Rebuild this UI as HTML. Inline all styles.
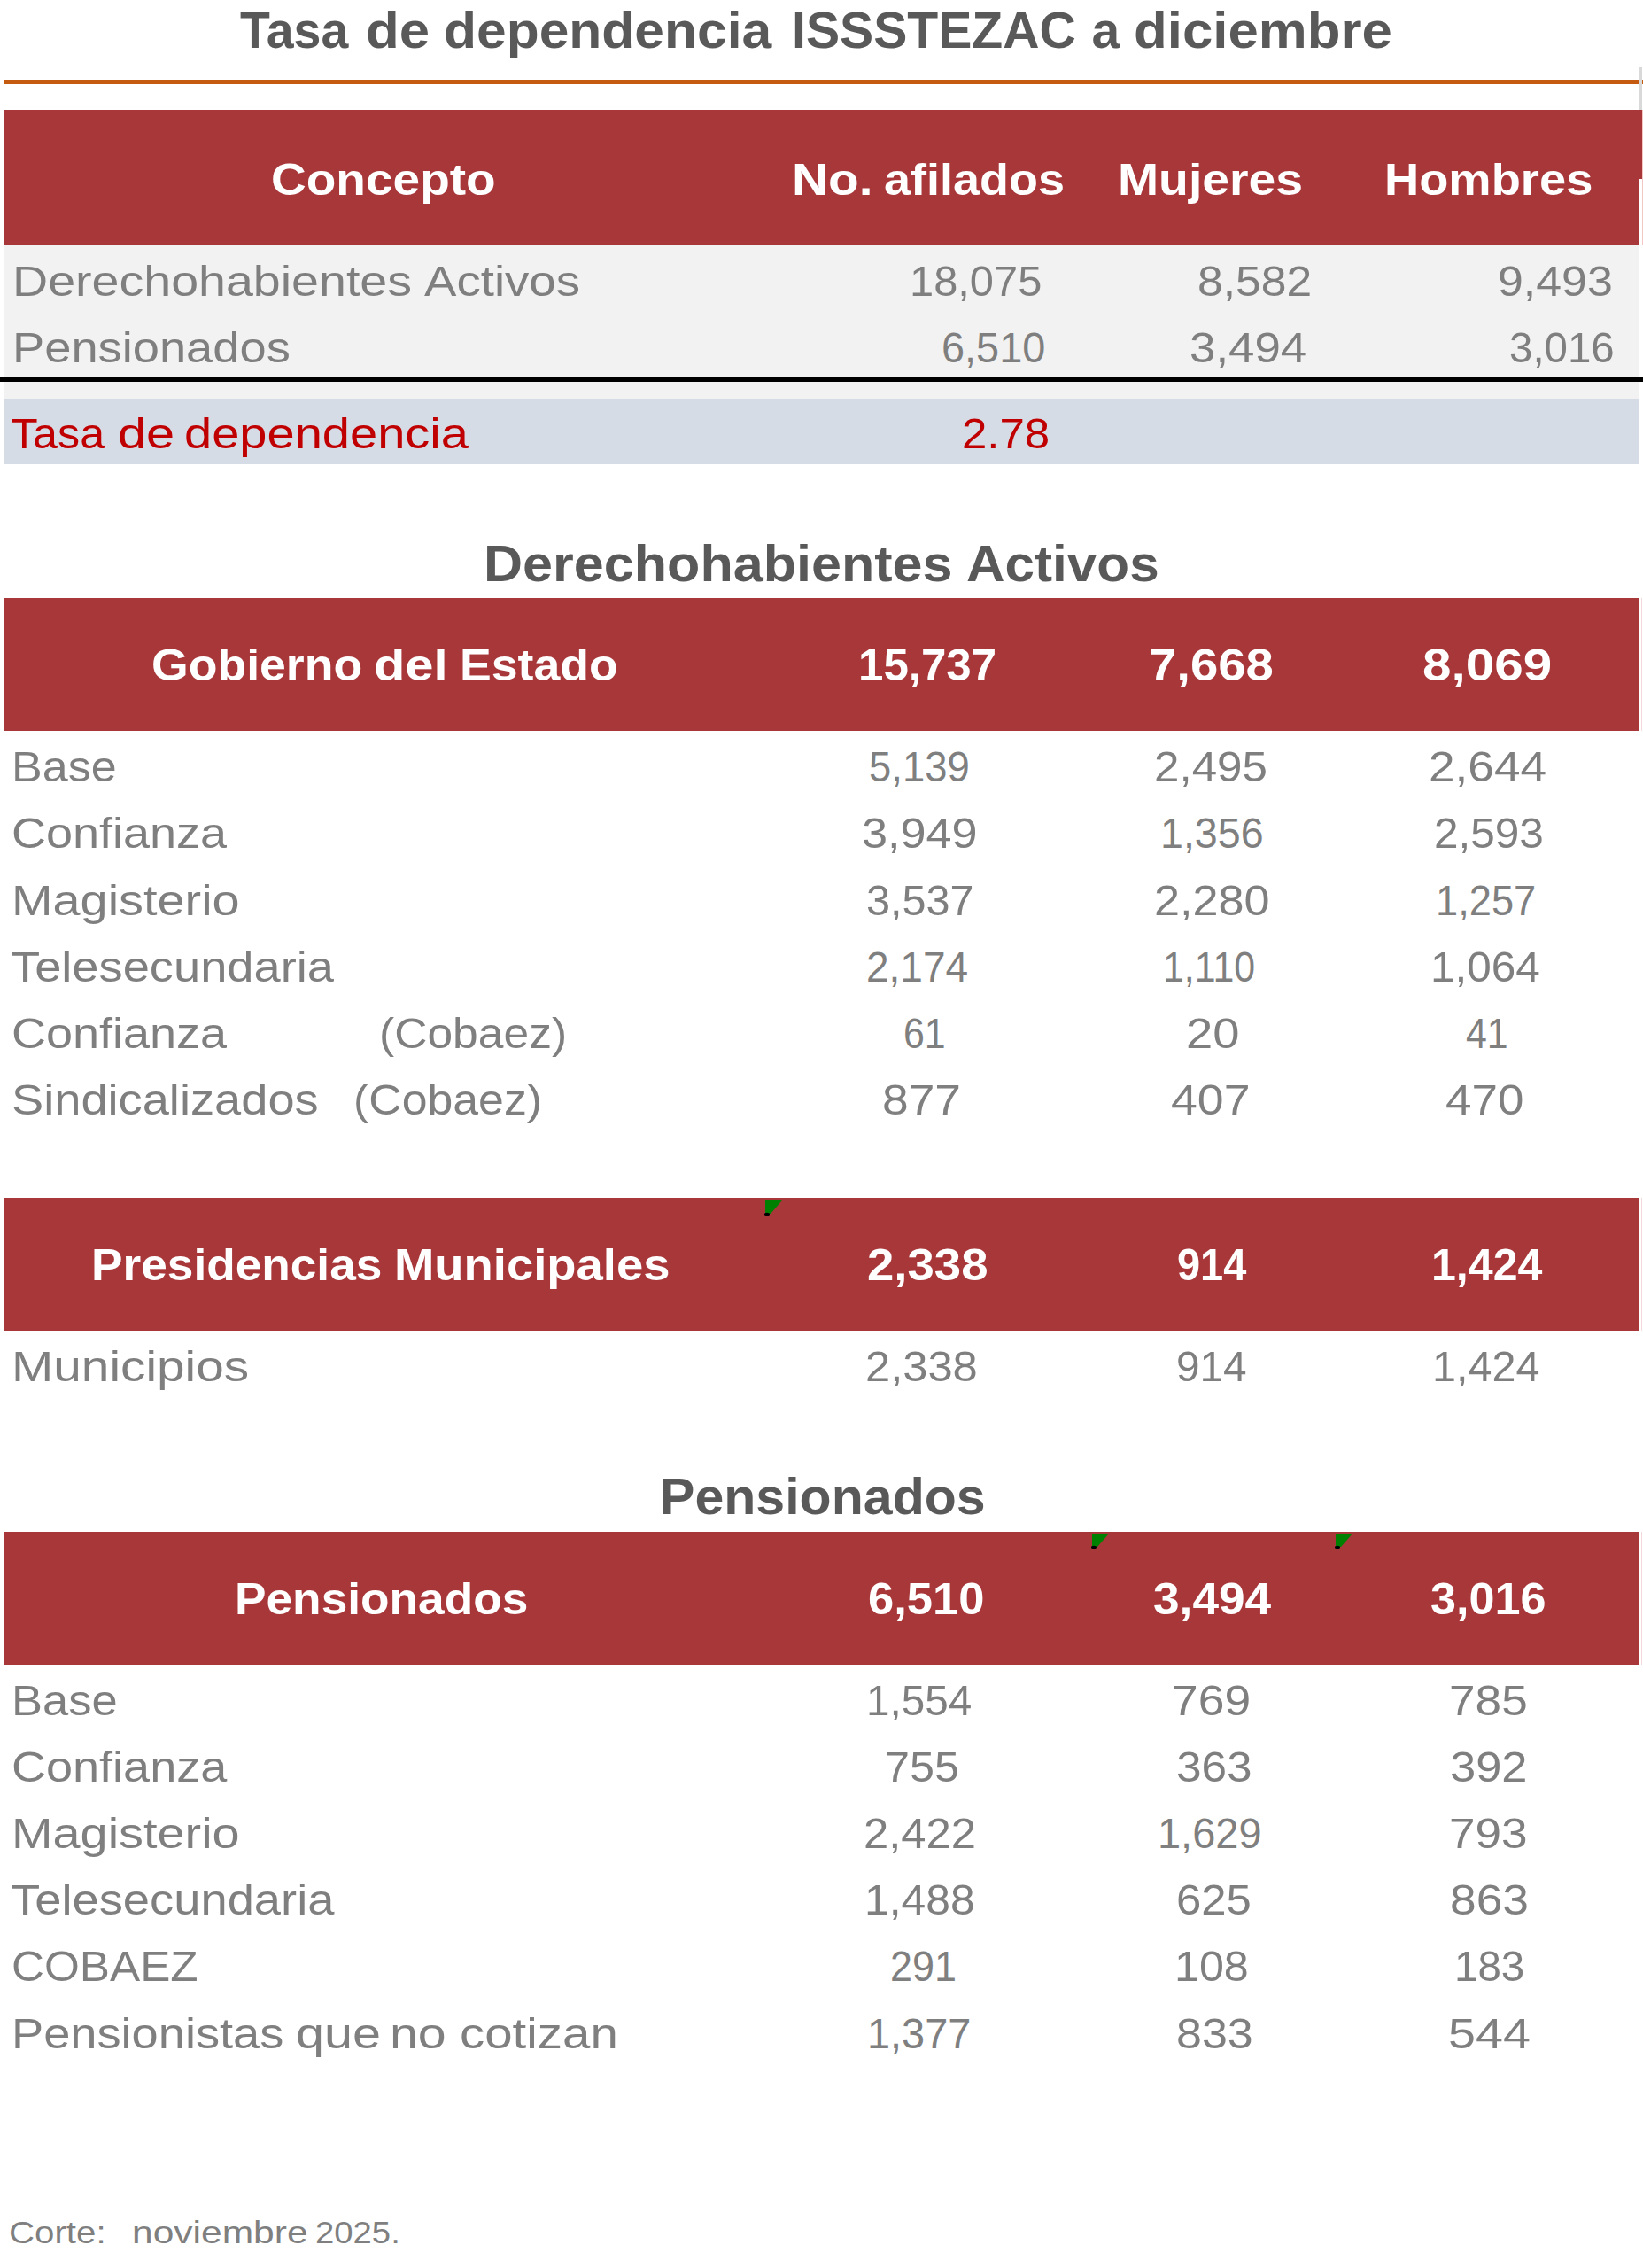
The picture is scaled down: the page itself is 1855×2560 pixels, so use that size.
<!DOCTYPE html>
<html lang="es"><head><meta charset="utf-8"><title>Tasa de dependencia ISSSTEZAC</title>
<style>
html,body{margin:0;padding:0;background:#fff}
body{width:1855px;height:2560px;position:relative;overflow:hidden;font-family:"Liberation Sans", sans-serif}
.r{position:absolute;display:block}
.t{position:absolute;white-space:pre;transform-origin:0 0;font-weight:400}
.b{font-weight:700}
</style></head><body>
<div class="r" style="left:4px;top:90px;width:1851px;height:5px;background:#c55a11"></div>
<div class="r" style="left:1851px;top:76px;width:3px;height:48px;background:#d9d9d9"></div>
<div class="r" style="left:4px;top:124px;width:1847px;height:153px;background:#a8373a"></div>
<div class="r" style="left:1851px;top:124px;width:3px;height:78px;background:#a8373a"></div>
<div class="r" style="left:1854px;top:124px;width:1px;height:153px;background:#f4c7c3"></div>
<div class="r" style="left:4px;top:277px;width:1847px;height:172.5px;background:#f2f2f2"></div>
<div class="r" style="left:0px;top:425px;width:1855px;height:6px;background:#000000"></div>
<div class="r" style="left:4px;top:449.5px;width:1847px;height:74.5px;background:#d6dce5"></div>
<div class="r" style="left:4px;top:675px;width:1847px;height:150px;background:#a8373a"></div>
<div class="r" style="left:4px;top:1352px;width:1847px;height:150px;background:#a8373a"></div>
<div class="r" style="left:4px;top:1728.5px;width:1847px;height:150px;background:#a8373a"></div>
<div class="r" style="left:1853px;top:675px;width:1px;height:150px;background:#f3d9d9"></div>
<div class="r" style="left:1853px;top:1352px;width:1px;height:150px;background:#f3d9d9"></div>
<div class="r" style="left:1853px;top:1728.5px;width:1px;height:150px;background:#f3d9d9"></div>
<svg class="r" style="left:862px;top:1353.5px" width="24" height="22" viewBox="0 0 24 22"><polygon points="2,1 21,1 8,16 2,16" fill="#008000"/><ellipse cx="4" cy="16.4" rx="3" ry="1.7" fill="#000"/></svg>
<svg class="r" style="left:1230.5px;top:1730px" width="24" height="22" viewBox="0 0 24 22"><polygon points="2,1 21,1 8,16 2,16" fill="#008000"/><ellipse cx="4" cy="16.4" rx="3" ry="1.7" fill="#000"/></svg>
<svg class="r" style="left:1506px;top:1730px" width="24" height="22" viewBox="0 0 24 22"><polygon points="2,1 21,1 8,16 2,16" fill="#008000"/><ellipse cx="4" cy="16.4" rx="3" ry="1.7" fill="#000"/></svg>
<span class="t b" style="left:270.70px;top:5.70px;font-size:57px;line-height:57px;color:#595959;transform:scaleX(0.9725)">Tasa</span>
<span class="t b" style="left:412.53px;top:5.70px;font-size:57px;line-height:57px;color:#595959;transform:scaleX(1.0841)">de</span>
<span class="t b" style="left:500.78px;top:5.70px;font-size:57px;line-height:57px;color:#595959;transform:scaleX(1.0623)">dependencia</span>
<span class="t b" style="left:893.99px;top:5.70px;font-size:57px;line-height:57px;color:#595959;transform:scaleX(1.0028)">ISSSTEZAC</span>
<span class="t b" style="left:1232.60px;top:5.70px;font-size:57px;line-height:57px;color:#595959;transform:scaleX(1.0000)">a</span>
<span class="t b" style="left:1280.43px;top:5.70px;font-size:57px;line-height:57px;color:#595959;transform:scaleX(1.0841)">diciembre</span>
<span class="t b" style="left:306.30px;top:178.30px;font-size:50px;line-height:50px;color:#ffffff;transform:scaleX(1.1004)">Concepto</span>
<span class="t b" style="left:894.19px;top:178.30px;font-size:50px;line-height:50px;color:#ffffff;transform:scaleX(1.1360)">No.</span>
<span class="t b" style="left:997.72px;top:178.30px;font-size:50px;line-height:50px;color:#ffffff;transform:scaleX(1.0793)">afilados</span>
<span class="t b" style="left:1261.58px;top:178.30px;font-size:50px;line-height:50px;color:#ffffff;transform:scaleX(1.1067)">Mujeres</span>
<span class="t b" style="left:1562.94px;top:178.30px;font-size:50px;line-height:50px;color:#ffffff;transform:scaleX(1.0858)">Hombres</span>
<span class="t" style="left:13.64px;top:293.12px;font-size:48.75px;line-height:48.75px;color:#7f7f7f;transform:scaleX(1.1399)">Derechohabientes</span>
<span class="t" style="left:479.00px;top:293.12px;font-size:48.75px;line-height:48.75px;color:#7f7f7f;transform:scaleX(1.1204)">Activos</span>
<span class="t" style="left:1027.40px;top:293.12px;font-size:48.75px;line-height:48.75px;color:#7f7f7f;transform:scaleX(1.0014)">18,075</span>
<span class="t" style="left:1351.78px;top:293.12px;font-size:48.75px;line-height:48.75px;color:#7f7f7f;transform:scaleX(1.0587)">8,582</span>
<span class="t" style="left:1690.97px;top:293.12px;font-size:48.75px;line-height:48.75px;color:#7f7f7f;transform:scaleX(1.0638)">9,493</span>
<span class="t" style="left:13.75px;top:368.23px;font-size:48.75px;line-height:48.75px;color:#7f7f7f;transform:scaleX(1.1132)">Pensionados</span>
<span class="t" style="left:1062.58px;top:368.23px;font-size:48.75px;line-height:48.75px;color:#7f7f7f;transform:scaleX(0.9623)">6,510</span>
<span class="t" style="left:1342.82px;top:368.23px;font-size:48.75px;line-height:48.75px;color:#7f7f7f;transform:scaleX(1.0836)">3,494</span>
<span class="t" style="left:1703.53px;top:368.23px;font-size:48.75px;line-height:48.75px;color:#7f7f7f;transform:scaleX(0.9732)">3,016</span>
<span class="t" style="left:11.57px;top:465.12px;font-size:48.75px;line-height:48.75px;color:#c00000;transform:scaleX(1.0305)">Tasa</span>
<span class="t" style="left:133.23px;top:465.12px;font-size:48.75px;line-height:48.75px;color:#c00000;transform:scaleX(1.1833)">de</span>
<span class="t" style="left:207.80px;top:465.12px;font-size:48.75px;line-height:48.75px;color:#c00000;transform:scaleX(1.1496)">dependencia</span>
<span class="t" style="left:1085.91px;top:465.12px;font-size:48.75px;line-height:48.75px;color:#c00000;transform:scaleX(1.0455)">2.78</span>
<span class="t b" style="left:546.09px;top:607.50px;font-size:57px;line-height:57px;color:#595959;transform:scaleX(1.0716)">Derechohabientes</span>
<span class="t b" style="left:1091.24px;top:607.50px;font-size:57px;line-height:57px;color:#595959;transform:scaleX(1.0571)">Activos</span>
<span class="t b" style="left:171.26px;top:726.30px;font-size:50px;line-height:50px;color:#ffffff;transform:scaleX(1.0719)">Gobierno</span>
<span class="t b" style="left:422.38px;top:726.30px;font-size:50px;line-height:50px;color:#ffffff;transform:scaleX(1.1581)">del</span>
<span class="t b" style="left:519.28px;top:726.30px;font-size:50px;line-height:50px;color:#ffffff;transform:scaleX(1.0724)">Estado</span>
<span class="t b" style="left:969.14px;top:726.30px;font-size:50px;line-height:50px;color:#ffffff;transform:scaleX(1.0208)">15,737</span>
<span class="t b" style="left:1297.45px;top:726.30px;font-size:50px;line-height:50px;color:#ffffff;transform:scaleX(1.1258)">7,668</span>
<span class="t b" style="left:1605.53px;top:726.30px;font-size:50px;line-height:50px;color:#ffffff;transform:scaleX(1.1683)">8,069</span>
<span class="t" style="left:12.73px;top:841.23px;font-size:48.75px;line-height:48.75px;color:#7f7f7f;transform:scaleX(1.0676)">Base</span>
<span class="t" style="left:980.67px;top:841.23px;font-size:48.75px;line-height:48.75px;color:#7f7f7f;transform:scaleX(0.9320)">5,139</span>
<span class="t" style="left:1303.30px;top:841.23px;font-size:48.75px;line-height:48.75px;color:#7f7f7f;transform:scaleX(1.0489)">2,495</span>
<span class="t" style="left:1613.22px;top:841.23px;font-size:48.75px;line-height:48.75px;color:#7f7f7f;transform:scaleX(1.0910)">2,644</span>
<span class="t" style="left:12.78px;top:916.43px;font-size:48.75px;line-height:48.75px;color:#7f7f7f;transform:scaleX(1.1076)">Confianza</span>
<span class="t" style="left:972.63px;top:916.43px;font-size:48.75px;line-height:48.75px;color:#7f7f7f;transform:scaleX(1.0708)">3,949</span>
<span class="t" style="left:1310.13px;top:916.43px;font-size:48.75px;line-height:48.75px;color:#7f7f7f;transform:scaleX(0.9557)">1,356</span>
<span class="t" style="left:1618.67px;top:916.43px;font-size:48.75px;line-height:48.75px;color:#7f7f7f;transform:scaleX(1.0154)">2,593</span>
<span class="t" style="left:12.92px;top:991.62px;font-size:48.75px;line-height:48.75px;color:#7f7f7f;transform:scaleX(1.1458)">Magisterio</span>
<span class="t" style="left:978.10px;top:991.62px;font-size:48.75px;line-height:48.75px;color:#7f7f7f;transform:scaleX(0.9959)">3,537</span>
<span class="t" style="left:1303.26px;top:991.62px;font-size:48.75px;line-height:48.75px;color:#7f7f7f;transform:scaleX(1.0708)">2,280</span>
<span class="t" style="left:1621.12px;top:991.62px;font-size:48.75px;line-height:48.75px;color:#7f7f7f;transform:scaleX(0.9283)">1,257</span>
<span class="t" style="left:11.89px;top:1066.83px;font-size:48.75px;line-height:48.75px;color:#7f7f7f;transform:scaleX(1.1132)">Telesecundaria</span>
<span class="t" style="left:977.51px;top:1066.83px;font-size:48.75px;line-height:48.75px;color:#7f7f7f;transform:scaleX(0.9430)">2,174</span>
<span class="t" style="left:1312.93px;top:1066.83px;font-size:48.75px;line-height:48.75px;color:#7f7f7f;transform:scaleX(0.8800)">1,110</span>
<span class="t" style="left:1614.95px;top:1066.83px;font-size:48.75px;line-height:48.75px;color:#7f7f7f;transform:scaleX(1.0154)">1,064</span>
<span class="t" style="left:12.78px;top:1142.03px;font-size:48.75px;line-height:48.75px;color:#7f7f7f;transform:scaleX(1.1076)">Confianza</span>
<span class="t" style="left:428.03px;top:1142.03px;font-size:48.75px;line-height:48.75px;color:#7f7f7f;transform:scaleX(1.0581)">(Cobaez)</span>
<span class="t" style="left:1019.54px;top:1142.03px;font-size:48.75px;line-height:48.75px;color:#7f7f7f;transform:scaleX(0.8800)">61</span>
<span class="t" style="left:1339.27px;top:1142.03px;font-size:48.75px;line-height:48.75px;color:#7f7f7f;transform:scaleX(1.1152)">20</span>
<span class="t" style="left:1654.78px;top:1142.03px;font-size:48.75px;line-height:48.75px;color:#7f7f7f;transform:scaleX(0.8800)">41</span>
<span class="t" style="left:12.78px;top:1217.22px;font-size:48.75px;line-height:48.75px;color:#7f7f7f;transform:scaleX(1.1124)">Sindicalizados</span>
<span class="t" style="left:398.61px;top:1217.22px;font-size:48.75px;line-height:48.75px;color:#7f7f7f;transform:scaleX(1.0627)">(Cobaez)</span>
<span class="t" style="left:996.21px;top:1217.22px;font-size:48.75px;line-height:48.75px;color:#7f7f7f;transform:scaleX(1.0942)">877</span>
<span class="t" style="left:1322.40px;top:1217.22px;font-size:48.75px;line-height:48.75px;color:#7f7f7f;transform:scaleX(1.1007)">407</span>
<span class="t" style="left:1632.01px;top:1217.22px;font-size:48.75px;line-height:48.75px;color:#7f7f7f;transform:scaleX(1.0868)">470</span>
<span class="t b" style="left:102.51px;top:1403.30px;font-size:50px;line-height:50px;color:#ffffff;transform:scaleX(1.0642)">Presidencias</span>
<span class="t b" style="left:444.73px;top:1403.30px;font-size:50px;line-height:50px;color:#ffffff;transform:scaleX(1.0886)">Municipales</span>
<span class="t b" style="left:979.01px;top:1403.30px;font-size:50px;line-height:50px;color:#ffffff;transform:scaleX(1.0907)">2,338</span>
<span class="t b" style="left:1328.86px;top:1403.30px;font-size:50px;line-height:50px;color:#ffffff;transform:scaleX(0.9381)">914</span>
<span class="t b" style="left:1615.59px;top:1403.30px;font-size:50px;line-height:50px;color:#ffffff;transform:scaleX(1.0023)">1,424</span>
<span class="t" style="left:12.84px;top:1518.12px;font-size:48.75px;line-height:48.75px;color:#7f7f7f;transform:scaleX(1.1644)">Municipios</span>
<span class="t" style="left:977.32px;top:1518.12px;font-size:48.75px;line-height:48.75px;color:#7f7f7f;transform:scaleX(1.0392)">2,338</span>
<span class="t" style="left:1327.84px;top:1518.12px;font-size:48.75px;line-height:48.75px;color:#7f7f7f;transform:scaleX(0.9792)">914</span>
<span class="t" style="left:1617.41px;top:1518.12px;font-size:48.75px;line-height:48.75px;color:#7f7f7f;transform:scaleX(0.9951)">1,424</span>
<span class="t b" style="left:744.59px;top:1660.50px;font-size:57px;line-height:57px;color:#595959;transform:scaleX(1.0364)">Pensionados</span>
<span class="t b" style="left:264.61px;top:1779.50px;font-size:50px;line-height:50px;color:#ffffff;transform:scaleX(1.0647)">Pensionados</span>
<span class="t b" style="left:979.65px;top:1779.50px;font-size:50px;line-height:50px;color:#ffffff;transform:scaleX(1.0506)">6,510</span>
<span class="t b" style="left:1301.84px;top:1779.50px;font-size:50px;line-height:50px;color:#ffffff;transform:scaleX(1.0642)">3,494</span>
<span class="t b" style="left:1614.86px;top:1779.50px;font-size:50px;line-height:50px;color:#ffffff;transform:scaleX(1.0432)">3,016</span>
<span class="t" style="left:12.70px;top:1894.62px;font-size:48.75px;line-height:48.75px;color:#7f7f7f;transform:scaleX(1.0762)">Base</span>
<span class="t" style="left:978.07px;top:1894.62px;font-size:48.75px;line-height:48.75px;color:#7f7f7f;transform:scaleX(0.9773)">1,554</span>
<span class="t" style="left:1322.81px;top:1894.62px;font-size:48.75px;line-height:48.75px;color:#7f7f7f;transform:scaleX(1.0955)">769</span>
<span class="t" style="left:1636.22px;top:1894.62px;font-size:48.75px;line-height:48.75px;color:#7f7f7f;transform:scaleX(1.0904)">785</span>
<span class="t" style="left:12.78px;top:1969.83px;font-size:48.75px;line-height:48.75px;color:#7f7f7f;transform:scaleX(1.1080)">Confianza</span>
<span class="t" style="left:998.54px;top:1969.83px;font-size:48.75px;line-height:48.75px;color:#7f7f7f;transform:scaleX(1.0316)">755</span>
<span class="t" style="left:1327.75px;top:1969.83px;font-size:48.75px;line-height:48.75px;color:#7f7f7f;transform:scaleX(1.0521)">363</span>
<span class="t" style="left:1636.52px;top:1969.83px;font-size:48.75px;line-height:48.75px;color:#7f7f7f;transform:scaleX(1.0764)">392</span>
<span class="t" style="left:12.92px;top:2045.03px;font-size:48.75px;line-height:48.75px;color:#7f7f7f;transform:scaleX(1.1458)">Magisterio</span>
<span class="t" style="left:974.82px;top:2045.03px;font-size:48.75px;line-height:48.75px;color:#7f7f7f;transform:scaleX(1.0417)">2,422</span>
<span class="t" style="left:1307.01px;top:2045.03px;font-size:48.75px;line-height:48.75px;color:#7f7f7f;transform:scaleX(0.9634)">1,629</span>
<span class="t" style="left:1636.22px;top:2045.03px;font-size:48.75px;line-height:48.75px;color:#7f7f7f;transform:scaleX(1.0903)">793</span>
<span class="t" style="left:11.89px;top:2120.22px;font-size:48.75px;line-height:48.75px;color:#7f7f7f;transform:scaleX(1.1144)">Telesecundaria</span>
<span class="t" style="left:976.34px;top:2120.22px;font-size:48.75px;line-height:48.75px;color:#7f7f7f;transform:scaleX(1.0215)">1,488</span>
<span class="t" style="left:1327.71px;top:2120.22px;font-size:48.75px;line-height:48.75px;color:#7f7f7f;transform:scaleX(1.0431)">625</span>
<span class="t" style="left:1637.01px;top:2120.22px;font-size:48.75px;line-height:48.75px;color:#7f7f7f;transform:scaleX(1.0942)">863</span>
<span class="t" style="left:12.70px;top:2195.43px;font-size:48.75px;line-height:48.75px;color:#7f7f7f;transform:scaleX(1.0507)">COBAEZ</span>
<span class="t" style="left:1005.16px;top:2195.43px;font-size:48.75px;line-height:48.75px;color:#7f7f7f;transform:scaleX(0.9220)">291</span>
<span class="t" style="left:1325.71px;top:2195.43px;font-size:48.75px;line-height:48.75px;color:#7f7f7f;transform:scaleX(1.0298)">108</span>
<span class="t" style="left:1641.58px;top:2195.43px;font-size:48.75px;line-height:48.75px;color:#7f7f7f;transform:scaleX(0.9734)">183</span>
<span class="t" style="left:13.05px;top:2270.62px;font-size:48.75px;line-height:48.75px;color:#7f7f7f;transform:scaleX(1.1120)">Pensionistas</span>
<span class="t" style="left:333.54px;top:2270.62px;font-size:48.75px;line-height:48.75px;color:#7f7f7f;transform:scaleX(1.1797)">que</span>
<span class="t" style="left:440.47px;top:2270.62px;font-size:48.75px;line-height:48.75px;color:#7f7f7f;transform:scaleX(1.1754)">no</span>
<span class="t" style="left:518.58px;top:2270.62px;font-size:48.75px;line-height:48.75px;color:#7f7f7f;transform:scaleX(1.1577)">cotizan</span>
<span class="t" style="left:978.72px;top:2270.62px;font-size:48.75px;line-height:48.75px;color:#7f7f7f;transform:scaleX(0.9617)">1,377</span>
<span class="t" style="left:1327.67px;top:2270.62px;font-size:48.75px;line-height:48.75px;color:#7f7f7f;transform:scaleX(1.0657)">833</span>
<span class="t" style="left:1635.46px;top:2270.62px;font-size:48.75px;line-height:48.75px;color:#7f7f7f;transform:scaleX(1.1423)">544</span>
<span class="t" style="left:9.93px;top:2503.35px;font-size:34.5px;line-height:34.5px;color:#7f7f7f;transform:scaleX(1.1664)">Corte:</span>
<span class="t" style="left:148.54px;top:2503.35px;font-size:34.5px;line-height:34.5px;color:#7f7f7f;transform:scaleX(1.2325)">noviembre</span>
<span class="t" style="left:356.49px;top:2503.35px;font-size:34.5px;line-height:34.5px;color:#7f7f7f;transform:scaleX(1.1094)">2025.</span>
</body></html>
